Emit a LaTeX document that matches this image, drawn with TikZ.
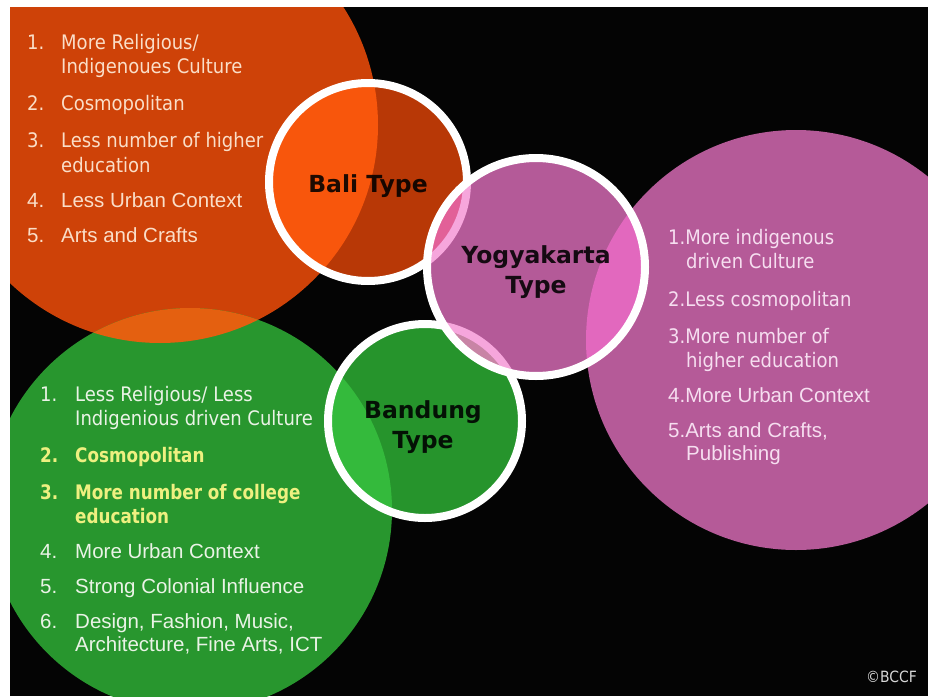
\documentclass[tikz,border=0pt]{standalone}
\usepackage{fontspec}
\setmainfont{DejaVu Sans}
\newfontfamily\humfont[FakeStretch=0.9]{DejaVu Sans}
\newfontfamily\humboldfont[FakeStretch=0.84]{DejaVu Sans Bold}
\newfontfamily\arialfont{Liberation Sans}
\newfontfamily\labfont{DejaVu Sans Bold}

% palette
\definecolor{bgblack}{RGB}{4,4,4}
\definecolor{bigorange}{RGB}{206,66,8}
\definecolor{biggreen}{RGB}{40,150,46}
\definecolor{bigpink}{RGB}{181,90,152}
\definecolor{lensorange}{RGB}{228,96,16}
\definecolor{balidark}{RGB}{184,56,6}
\definecolor{balibright}{RGB}{248,86,12}
\definecolor{bandungfill}{RGB}{38,148,44}
\definecolor{bandunglight}{RGB}{52,186,60}
\definecolor{yogyafill}{RGB}{180,90,152}
\definecolor{yogyahot}{RGB}{226,104,190}
\definecolor{yogyaring}{RGB}{246,166,220}
\definecolor{yogyared}{RGB}{226,96,152}
\definecolor{yogyadusk}{RGB}{200,132,165}
\definecolor{otext}{RGB}{250,222,200}
\definecolor{gtext}{RGB}{234,243,230}
\definecolor{ytext}{RGB}{238,240,128}
\definecolor{ptext}{RGB}{246,222,240}

\tikzset{
  tah/.style={font=\humfont\fontsize{20}{24}\selectfont, anchor=base west, inner sep=0pt},
  tahbold/.style={font=\humboldfont\fontsize{20}{24}\selectfont, anchor=base west, inner sep=0pt},
  ari/.style={font=\arialfont\fontsize{20.5}{24}\selectfont, anchor=base west, inner sep=0pt},
  typelabel/.style={font=\labfont\fontsize{23.5}{27}\selectfont, anchor=base, inner sep=0pt, text=black, text opacity=0.88},
  ring/.style={draw=white, line width=8pt},
}

\begin{document}
\begin{tikzpicture}[x=1pt,y=-1pt]
\useasboundingbox (0,0) rectangle (928,696);
\fill[white] (0,0) rectangle (928,696);
\fill[bgblack] (10,7) rectangle (928,696);

% circle centres
\coordinate (O) at (160,125);   % large orange
\coordinate (G) at (190,510);   % large green
\coordinate (P) at (796,340);   % large pink
\coordinate (B) at (368,182);   % Bali
\coordinate (Y) at (536,267);   % Yogyakarta
\coordinate (D) at (425,421);   % Bandung

\begin{scope}
\clip (10,7) rectangle (928,696);

% large background circles
\fill[bigorange] (O) circle[radius=218pt];
\fill[biggreen] (G) circle[radius=202pt];
\begin{scope}
  \clip (O) circle[radius=218pt];
  \fill[lensorange] (G) circle[radius=202pt];
\end{scope}
\fill[bigpink] (P) circle[radius=210pt];

% Bali list
\begin{scope}[text=otext]
  \node[tah] (o1n) at (27,49) {1.};
  \node[tah] (o1a) at (61,49) {More Religious/};
  \node[tah] (o1b) at (61,73) {Indigenoues Culture};
  \node[tah] (o2n) at (27,110) {2.};
  \node[tah] (o2a) at (61,110) {Cosmopolitan};
  \node[tah] (o3n) at (27,147) {3.};
  \node[tah] (o3a) at (61,147) {Less number of higher};
  \node[tah] (o3b) at (61,172) {education};
  \node[ari] (o4n) at (27,207) {4.};
  \node[ari] (o4a) at (61,207) {Less Urban Context};
  \node[ari] (o5n) at (27,242) {5.};
  \node[ari] (o5a) at (61,242) {Arts and Crafts};
\end{scope}

% Bandung list
\begin{scope}[text=gtext]
  \node[tah] (g1n) at (40,401) {1.};
  \node[tah] (g1a) at (75,401) {Less Religious/ Less};
  \node[tah] (g1b) at (75,425) {Indigenious driven Culture};
  \node[tahbold, text=ytext] (g2n) at (40,462) {2.};
  \node[tahbold, text=ytext] (g2a) at (75,462) {Cosmopolitan};
  \node[tahbold, text=ytext] (g3n) at (40,499) {3.};
  \node[tahbold, text=ytext] (g3a) at (75,499) {More number of college};
  \node[tahbold, text=ytext] (g3b) at (75,523) {education};
  \node[ari] (g4n) at (40,558) {4.};
  \node[ari] (g4a) at (75,558) {More Urban Context};
  \node[ari] (g5n) at (40,593) {5.};
  \node[ari] (g5a) at (75,593) {Strong Colonial Influence};
  \node[ari] (g6n) at (40,628) {6.};
  \node[ari] (g6a) at (75,628) {Design, Fashion, Music,};
  \node[ari] (g6b) at (75,651) {Architecture, Fine Arts, ICT};
\end{scope}

% Yogyakarta list
\begin{scope}[text=ptext]
  \node[tah] (p1a) at (668,244) {1.More indigenous};
  \node[tah] (p1b) at (686,268) {driven Culture};
  \node[tah] (p2a) at (668,306) {2.Less cosmopolitan};
  \node[tah] (p3a) at (668,343) {3.More number of};
  \node[tah] (p3b) at (686,367) {higher education};
  \node[ari] (p4a) at (668,402) {4.More Urban Context};
  \node[ari] (p5a) at (668,437) {5.Arts and Crafts,};
  \node[ari] (p5b) at (686,460) {Publishing};
\end{scope}

% Bali type circle
\fill[balidark] (B) circle[radius=99pt];
\begin{scope}
  \clip (O) circle[radius=218pt];
  \fill[balibright] (B) circle[radius=99pt];
\end{scope}
\draw[ring] (B) circle[radius=99pt];

% Bandung type circle
\fill[bandungfill] (D) circle[radius=97pt];
\begin{scope}
  \clip (G) circle[radius=202pt];
  \fill[bandunglight] (D) circle[radius=97pt];
\end{scope}
\draw[ring] (D) circle[radius=97pt];

% Yogyakarta type circle, laid over its neighbours
\fill[yogyafill] (Y) circle[radius=109pt];
\begin{scope}
  \clip (Y) circle[radius=109pt];
  \fill[yogyahot] (P) circle[radius=210pt];
  \fill[yogyared] (B) circle[radius=99pt];
  \draw[yogyaring, line width=8pt] (B) circle[radius=99pt];
  \fill[yogyadusk] (D) circle[radius=97pt];
  \draw[yogyaring, line width=8pt] (D) circle[radius=97pt];
\end{scope}
\draw[ring] (Y) circle[radius=109pt];

% circle titles
\node[typelabel] (bali) at (368,192) {Bali Type};
\node[typelabel] (yogya1) at (536,263) {Yogyakarta};
\node[typelabel] (yogya2) at (536,293) {Type};
\node[typelabel] (band1) at (423,418) {Bandung};
\node[typelabel] (band2) at (423,448) {Type};

% credit
\node[font=\humfont\fontsize{15.5}{18}\selectfont, text={rgb,255:red,215;green,215;blue,215}, anchor=base west, inner sep=0pt] (credit) at (866,682) {©BCCF};
\end{scope}
\end{tikzpicture}
\end{document}
